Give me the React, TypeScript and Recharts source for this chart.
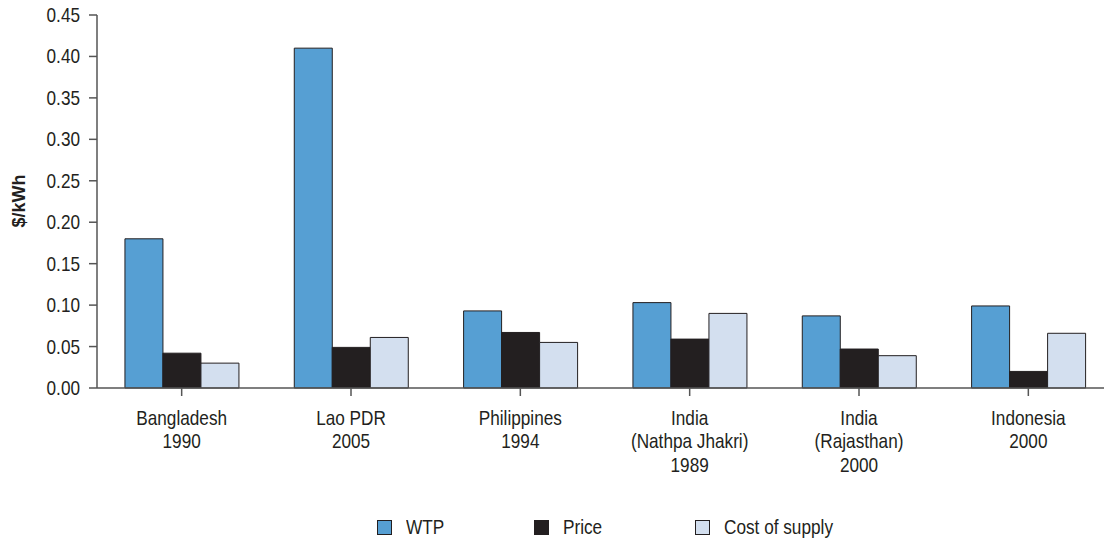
import React from "react";
import { BarChart, Bar, XAxis, YAxis, Legend, Label } from "recharts";

const categories = [
  "Bangladesh\n1990",
  "Lao PDR\n2005",
  "Philippines\n1994",
  "India\n(Nathpa Jhakri)\n1989",
  "India\n(Rajasthan)\n2000",
  "Indonesia\n2000",
];
const wtp = [0.18, 0.41, 0.093, 0.103, 0.087, 0.099];
const price = [0.042, 0.049, 0.067, 0.059, 0.047, 0.02];
const costOfSupply = [0.03, 0.061, 0.055, 0.09, 0.039, 0.066];
const yTicks = [0, 0.05, 0.1, 0.15, 0.2, 0.25, 0.3, 0.35, 0.4, 0.45];

const seriesNames = ["WTP", "Price", "Cost of supply"];
const seriesColors = ["#569FD3", "#231F20", "#D3DFEF"];
const legendItemWidths = [157, 161, 138];

const data = categories.map((c, i) => ({
  name: c,
  wtp: wtp[i],
  price: price[i],
  cost: costOfSupply[i],
}));

const FONT = "'Liberation Sans', Arial, sans-serif";
const SQUEEZE = 0.86;
const TEXT = "#231F20";
const AXIS = "#555555";

const XTick = (props: any) => {
  const { x, y, payload } = props;
  const lines = String(payload.value).split("\n");
  return (
    <g transform={`translate(${x},${y}) scale(${SQUEEZE},1)`}>
      <text x={0} y={0} textAnchor="middle" fill={TEXT} fontFamily={FONT} fontSize={20}>
        {lines.map((l, i) => (
          <tspan key={i} x={0} dy={i === 0 ? 27 : 23.5}>
            {l}
          </tspan>
        ))}
      </text>
    </g>
  );
};

const YTick = (props: any) => {
  const { x, y, payload } = props;
  return (
    <g transform={`translate(${x},${y}) scale(${SQUEEZE},1)`}>
      <text x={0} y={0} dy={7} textAnchor="end" fill={TEXT} fontFamily={FONT} fontSize={20}>
        {Number(payload.value).toFixed(2)}
      </text>
    </g>
  );
};

const LegendContent = () => (
  <div
    style={{
      display: "flex",
      justifyContent: "center",
      alignItems: "center",
      height: 30,
      fontFamily: FONT,
      fontSize: 20,
      color: TEXT,
    }}
  >
    {seriesNames.map((n, i) => (
      <div key={n} style={{ display: "flex", alignItems: "center", width: legendItemWidths[i] }}>
        <div
          style={{
            width: 13,
            height: 13,
            background: seriesColors[i],
            border: "1px solid #231F20",
            marginRight: 14,
            flex: "none",
          }}
        />
        <span
          style={{
            display: "inline-block",
            whiteSpace: "nowrap",
            transform: `scaleX(${SQUEEZE})`,
            transformOrigin: "left center",
          }}
        >
          {n}
        </span>
      </div>
    ))}
  </div>
);

export default function App() {
  return (
    <div
      style={{
        position: "fixed",
        left: 0,
        top: 0,
        width: 1104,
        height: 540,
        overflow: "hidden",
        background: "#fff",
      }}
    >
      <BarChart
        width={1113}
        height={540}
        data={data}
        margin={{ top: 15, right: 0, bottom: 22, left: 0 }}
        barCategoryGap="16.5%"
        barGap={0}
      >
        <XAxis
          dataKey="name"
          interval={0}
          height={100}
          tick={<XTick />}
          tickSize={8}
          axisLine={{ stroke: AXIS, strokeWidth: 1.5 }}
          tickLine={{ stroke: AXIS, strokeWidth: 1.5 }}
        />
        <YAxis
          width={97}
          domain={[0, 0.45]}
          ticks={yTicks}
          interval={0}
          tickSize={8}
          tickMargin={9}
          axisLine={{ stroke: AXIS, strokeWidth: 1.5 }}
          tickLine={{ stroke: AXIS, strokeWidth: 1.5 }}
          tick={<YTick />}
        >
          <Label
            content={() => (
              <text
                x={25}
                y={201}
                transform="rotate(-90 25 201)"
                textAnchor="middle"
                fill={TEXT}
                fontFamily={FONT}
                fontWeight="bold"
                fontSize={18}
              >
                $/kWh
              </text>
            )}
          />
        </YAxis>
        <Legend
          content={<LegendContent />}
          wrapperStyle={{ left: 97, width: 1016, top: 512, bottom: "auto", height: 30 }}
        />
        <Bar dataKey="wtp" name={seriesNames[0]} fill={seriesColors[0]} stroke="#231F20" strokeWidth={1} isAnimationActive={false} />
        <Bar dataKey="price" name={seriesNames[1]} fill={seriesColors[1]} stroke="#231F20" strokeWidth={1} isAnimationActive={false} />
        <Bar dataKey="cost" name={seriesNames[2]} fill={seriesColors[2]} stroke="#231F20" strokeWidth={1} isAnimationActive={false} />
      </BarChart>
    </div>
  );
}
